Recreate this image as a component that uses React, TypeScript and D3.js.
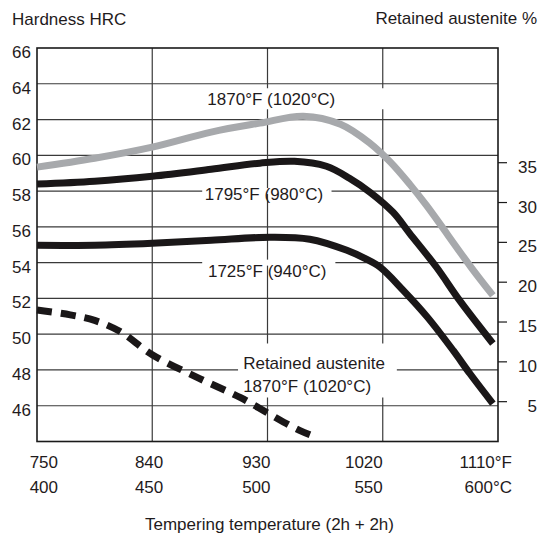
import { useEffect, useRef } from "react";
import * as d3 from "d3";

const WIDTH = 539;
const HEIGHT = 537;
const MARGIN = { top: 48, right: 41, bottom: 96, left: 37 };

const fahrenheitTicks = [750, 840, 930, 1020, 1110];
const fahrenheitLabels = ["750", "840", "930", "1020", "1110°F"];
const celsiusLabels = ["400", "450", "500", "550", "600°C"];
const labelShift = [21, 11, 3, 0, 14];
const hrcTicks = [46, 48, 50, 52, 54, 56, 58, 60, 62, 64, 66];
const austeniteTicks = [5, 10, 15, 20, 25, 30, 35];

// [tempering °F, HRC]
const hrc1870: [number, number][] = [
  [750, 59.34], [795, 59.84], [840, 60.46], [886, 61.3], [924, 61.8],
  [958, 62.19], [987, 61.74], [1010, 60.68], [1026, 59.62], [1041, 58.39],
  [1054, 57.21], [1089, 53.74], [1106, 52.17],
];
const hrc1795: [number, number][] = [
  [750, 58.39], [795, 58.55], [840, 58.83], [886, 59.22], [924, 59.56],
  [951, 59.67], [976, 59.39], [994, 58.72], [1010, 57.94], [1028, 56.82],
  [1041, 55.64], [1062, 53.74], [1080, 51.89], [1106, 49.48],
];
const hrc1725: [number, number][] = [
  [750, 54.97], [795, 54.97], [840, 55.08], [886, 55.25], [932, 55.42],
  [963, 55.31], [992, 54.69], [1006, 54.24], [1018, 53.74], [1036, 52.45],
  [1055, 50.94], [1075, 49.09], [1088, 47.8], [1106, 46.12],
];
// [tempering °F, retained austenite %]
const austenite1870: [number, number][] = [
  [750, 16.5], [776, 15.9], [795, 15.2], [815, 13.8], [840, 10.9],
  [877, 7.9], [909, 5.5], [932, 3.4], [955, 1.4], [969, 0.5],
];

const FONT = "'Liberation Sans', Arial, sans-serif";
const INK = "#1f1b1c";

export default function App() {
  const svgRef = useRef<SVGSVGElement>(null);

  useEffect(() => {
    const svgElement = svgRef.current;
    if (!svgElement) return;
    const svg = d3.select(svgElement);
    svg.selectAll("*").remove();

    const left = MARGIN.left;
    const right = WIDTH - MARGIN.right;
    const top = MARGIN.top;
    const bottom = HEIGHT - MARGIN.bottom + 0.5;

    const x = d3.scaleLinear().domain([750, 1110]).range([left, right]);
    const y = d3.scaleLinear().domain([44, 66]).range([bottom, top]);
    const yRight = d3.scaleLinear().domain([0, 49.4]).range([bottom, top]);

    const root = svg.append("g").attr("font-family", FONT).attr("fill", INK);

    // grid
    const grid = root.append("g").attr("stroke", "#3a3a3a").attr("stroke-width", 1.2);
    grid
      .selectAll("line.h")
      .data(hrcTicks.slice(0, -1))
      .join("line")
      .attr("class", "h")
      .attr("x1", left)
      .attr("x2", right)
      .attr("y1", (d) => y(d))
      .attr("y2", (d) => y(d));
    grid
      .selectAll("line.v")
      .data(fahrenheitTicks.slice(1, -1))
      .join("line")
      .attr("class", "v")
      .attr("x1", (d) => x(d))
      .attr("x2", (d) => x(d))
      .attr("y1", top)
      .attr("y2", bottom);

    // label backgrounds that break grid lines
    const bg = root.append("g").attr("fill", "#fff");
    bg.append("rect")
      .attr("x", x(881))
      .attr("y", y(63.75))
      .attr("width", x(1052) - x(881))
      .attr("height", 21);
    bg.append("rect")
      .attr("x", x(879))
      .attr("y", y(58) - 3)
      .attr("width", x(980) - x(879))
      .attr("height", 6);
    bg.append("rect")
      .attr("x", x(879))
      .attr("y", y(54) - 3)
      .attr("width", x(983) - x(879))
      .attr("height", 6);
    bg.append("rect")
      .attr("x", x(907))
      .attr("y", y(49.48))
      .attr("width", x(1031) - x(907))
      .attr("height", y(46.46) - y(49.48));

    // frame
    root
      .append("rect")
      .attr("x", left)
      .attr("y", top)
      .attr("width", right - left)
      .attr("height", bottom - top)
      .attr("fill", "none")
      .attr("stroke", "#1a1a1a")
      .attr("stroke-width", 1.6);

    // curves
    const line = d3
      .line<[number, number]>()
      .x((d) => x(d[0]))
      .y((d) => y(d[1]))
      .curve(d3.curveCatmullRom.alpha(0.5));
    const lineRight = d3
      .line<[number, number]>()
      .x((d) => x(d[0]))
      .y((d) => yRight(d[1]))
      .curve(d3.curveCatmullRom.alpha(0.5));

    const curves = root.append("g").attr("fill", "none").attr("stroke-width", 7);
    curves.append("path").attr("d", line(hrc1870)).attr("stroke", "#a7a9ac");
    curves.append("path").attr("d", line(hrc1795)).attr("stroke", "#1a1718");
    curves.append("path").attr("d", line(hrc1725)).attr("stroke", "#1a1718");
    curves
      .append("path")
      .attr("d", lineRight(austenite1870))
      .attr("stroke", "#1a1718")
      .attr("stroke-dasharray", "15 9");

    // curve labels
    const labels = root.append("g").attr("font-size", 17);
    labels.append("text").attr("x", x(883)).attr("y", y(62.81)).text("1870°F (1020°C)");
    labels.append("text").attr("x", x(881)).attr("y", y(57.49)).text("1795°F (980°C)");
    labels.append("text").attr("x", x(883.5)).attr("y", y(53.18)).text("1725°F (940°C)");
    labels.append("text").attr("x", x(911)).attr("y", y(48.08)).text("Retained austenite");
    labels.append("text").attr("x", x(911)).attr("y", y(46.74)).text("1870°F (1020°C)");

    // left axis labels
    root
      .append("g")
      .attr("font-size", 17)
      .attr("text-anchor", "end")
      .selectAll("text")
      .data(hrcTicks)
      .join("text")
      .attr("x", left - 6)
      .attr("y", (d) => y(d) + 10)
      .text((d) => d);

    // right axis
    const rightAxis = root.append("g");
    rightAxis
      .selectAll("line")
      .data(austeniteTicks)
      .join("line")
      .attr("x1", right)
      .attr("x2", right + 9)
      .attr("y1", (d) => yRight(d))
      .attr("y2", (d) => yRight(d))
      .attr("stroke", "#1a1a1a")
      .attr("stroke-width", 1.2);
    rightAxis
      .selectAll("text")
      .data(austeniteTicks)
      .join("text")
      .attr("font-size", 17)
      .attr("text-anchor", "end")
      .attr("x", WIDTH - 2)
      .attr("y", (d) => yRight(d) + 10)
      .text((d) => d);

    // bottom labels
    const bottomAxis = root.append("g").attr("font-size", 17).attr("text-anchor", "end");
    bottomAxis
      .selectAll("text.f")
      .data(fahrenheitTicks)
      .join("text")
      .attr("class", "f")
      .attr("x", (d, i) => x(d) + labelShift[i])
      .attr("y", bottom + 26)
      .text((d, i) => fahrenheitLabels[i]);
    bottomAxis
      .selectAll("text.c")
      .data(fahrenheitTicks)
      .join("text")
      .attr("class", "c")
      .attr("x", (d, i) => x(d) + labelShift[i])
      .attr("y", bottom + 51)
      .text((d, i) => celsiusLabels[i]);

    // titles
    root.append("text").attr("x", 12).attr("y", 25).attr("font-size", 17).text("Hardness HRC");
    root
      .append("text")
      .attr("x", WIDTH - 2)
      .attr("y", 24)
      .attr("font-size", 17)
      .attr("text-anchor", "end")
      .text("Retained austenite %");
    root
      .append("text")
      .attr("x", (left + right) / 2 + 2)
      .attr("y", 530)
      .attr("font-size", 17)
      .attr("text-anchor", "middle")
      .text("Tempering temperature (2h + 2h)");
  }, []);

  return (
    <svg
      ref={svgRef}
      width={WIDTH}
      height={HEIGHT}
      style={{ position: "absolute", left: 0, top: 0, background: "#fff" }}
    />
  );
}
